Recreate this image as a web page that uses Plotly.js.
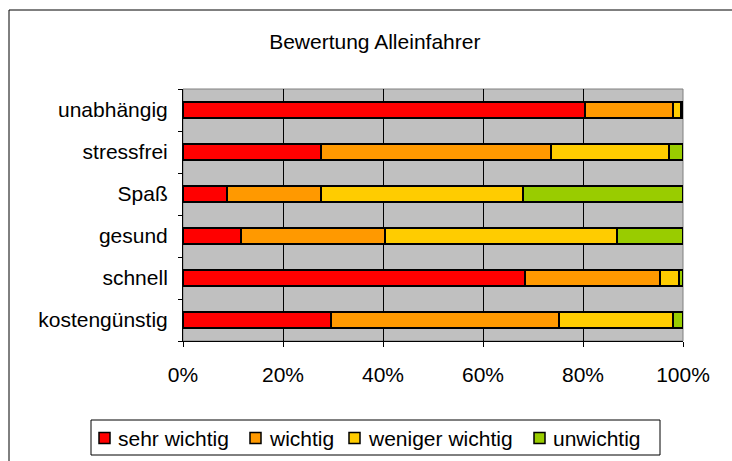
<!DOCTYPE html>
<html>
<head>
<meta charset="utf-8">
<script src="https://cdn.plot.ly/plotly-3.0.1.min.js"></script>
<style>html,body{margin:0;padding:0;background:#fff;}#chart{width:732px;height:461px;}</style>
</head>
<body>
<div id="chart"></div>
<script>
const categories = ["kostengünstig", "schnell", "gesund", "Spaß", "stressfrei", "unabhängig"];
const seriesNames = ["sehr wichtig", "wichtig", "weniger wichtig", "unwichtig"];
const sehrWichtig    = [29.5, 68.4, 11.6,  8.7, 27.5, 80.4];
const wichtig        = [45.7, 26.9, 28.8, 18.9, 46.1, 17.6];
const wenigerWichtig = [22.8,  3.9, 46.4, 40.4, 23.6,  1.5];
const unwichtig      = [ 2.0,  0.8, 13.2, 32.0,  2.8,  0.5];
const xTickVals = [0, 0.2, 0.4, 0.6, 0.8, 1.0];
const xTickText = ["0%", "20%", "40%", "60%", "80%", "100%"];

const colors = ["#FF0000", "#FF9900", "#FFCC00", "#99CC00"];
const values = [sehrWichtig, wichtig, wenigerWichtig, unwichtig];
const font = "Liberation Sans, Arial, sans-serif";
const fs = 21;

// plot area in pixels (layout only)
const PL = 183, PR = 683, PT = 89, PB = 341;
const px2x = p => (p - PL) / (PR - PL);
const px2y = p => (PB - p) / (PB - PT);

const traces = values.map((v, i) => ({
  type: "bar",
  orientation: "h",
  name: seriesNames[i],
  y: categories,
  x: v.map(d => d / 100),
  marker: {color: colors[i], line: {color: "#000", width: 2}},
  hoverinfo: "skip",
  showlegend: false
}));

// manual legend (layout positions)
const legendSquareLeft = [99, 250, 349, 534];
const legendCenterY = 438;
const shapes = [
  {type: "rect", xref: "paper", yref: "paper", x0: 0, x1: 1, y0: 0, y1: 1, line: {color: "#808080", width: 1}, layer: "below"},
  {type: "rect", xref: "paper", yref: "paper", x0: px2x(9), x1: 1.3, y0: -0.7, y1: px2y(10), line: {color: "#000", width: 1}, fillcolor: "rgba(0,0,0,0)"},
  {type: "rect", xref: "paper", yref: "paper", x0: px2x(91), x1: px2x(660), y0: px2y(455), y1: px2y(420), line: {color: "#000", width: 1}, fillcolor: "#fff"}
];
const annotations = [];
seriesNames.forEach((name, i) => {
  const sx = legendSquareLeft[i];
  shapes.push({type: "rect", xref: "paper", yref: "paper",
    x0: px2x(sx), x1: px2x(sx + 11), y0: px2y(legendCenterY + 5.5), y1: px2y(legendCenterY - 5.5),
    fillcolor: colors[i], line: {color: "#000", width: 1.5}});
  annotations.push({xref: "paper", yref: "paper", x: px2x(sx + 17), y: px2y(legendCenterY),
    xanchor: "left", yanchor: "middle", showarrow: false, text: name,
    font: {family: font, size: fs, color: "#000"}});
});

const layout = {
  width: 732, height: 461,
  margin: {l: PL, r: 732 - PR, t: PT, b: 461 - PB},
  paper_bgcolor: "#fff",
  plot_bgcolor: "#C0C0C0",
  barmode: "stack",
  bargap: 0.62,
  showlegend: false,
  font: {family: font, size: fs, color: "#000"},
  title: {text: "Bewertung Alleinfahrer", x: 0.512, xref: "container", y: 0.909, yref: "container", yanchor: "middle", xanchor: "center", font: {family: font, size: fs, color: "#000"}},
  xaxis: {
    range: [0, 1], tickvals: xTickVals, ticktext: xTickText,
    showgrid: true, gridcolor: "#000", gridwidth: 1,
    showline: true, linecolor: "#000", linewidth: 1,
    ticks: "outside", ticklen: 5, tickcolor: "#000",
    ticklabelstandoff: 10,
    zeroline: false, fixedrange: true, automargin: false,
    tickfont: {family: font, size: fs, color: "#000"}
  },
  yaxis: {
    type: "category", categoryorder: "array", categoryarray: categories,
    showline: true, linecolor: "#000", linewidth: 1,
    ticks: "outside", ticklen: 4, tickcolor: "#000", tickson: "boundaries",
    ticklabelstandoff: 10,
    showgrid: false, zeroline: false, fixedrange: true, automargin: false,
    tickfont: {family: font, size: fs, color: "#000"}
  },
  shapes: shapes,
  annotations: annotations
};

Plotly.newPlot("chart", traces, layout, {displayModeBar: false, staticPlot: true});
</script>
</body>
</html>
